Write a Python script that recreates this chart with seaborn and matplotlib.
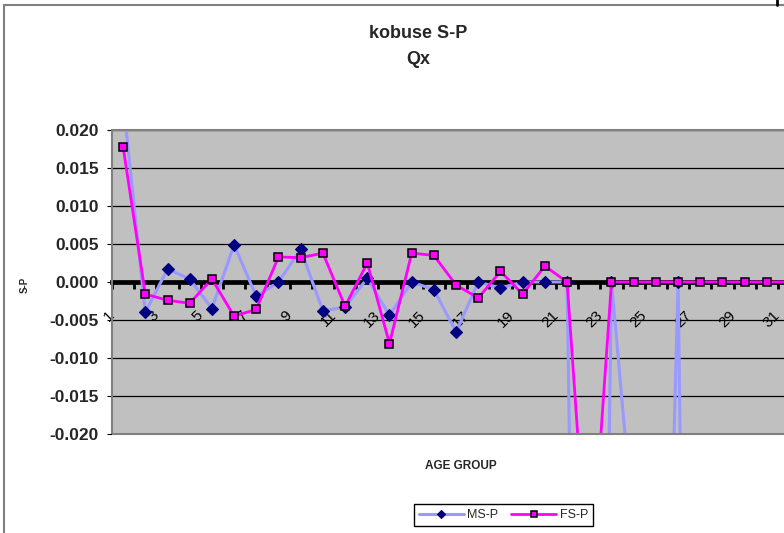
import numpy as np
import pandas as pd
import matplotlib
matplotlib.use("Agg")
import matplotlib.pyplot as plt
from matplotlib.transforms import ScaledTranslation
from matplotlib.patches import Rectangle
from matplotlib.lines import Line2D
import seaborn as sns

# Age groups on the category axis
age_groups = list(range(1, 32))

# Differences in Qx (survey minus projection), males
ms_p = [0.0238, -0.0040, 0.0017, 0.0004, -0.0035, 0.0049, -0.0019, 0.0000,
        0.0043, -0.0038, -0.0033, 0.0005, -0.0044, 0.0000, -0.0010, -0.0066,
        0.0000, -0.0008, 0.0000, 0.0000, 0.0000, -0.2000, 0.0000, -0.0330,
        -0.1100, 0.0000, -0.2200, np.nan, np.nan, np.nan, np.nan]

# Differences in Qx (survey minus projection), females
fs_p = [0.0178, -0.0016, -0.0024, -0.0028, 0.0004, -0.0045, -0.0036, 0.0033,
        0.0032, 0.0038, -0.0032, 0.0025, -0.0081, 0.0038, 0.0035, -0.0004,
        -0.0021, 0.0014, -0.0016, 0.0021, 0.0000, -0.0420, 0.0000, 0.0000,
        0.0000, 0.0000, 0.0000, 0.0000, 0.0000, 0.0000, 0.0000]

y_ticks = [0.020, 0.015, 0.010, 0.005, 0.000, -0.005, -0.010, -0.015, -0.020]

sns.set_style("white")
plt.rcParams["font.family"] = ["Liberation Sans", "DejaVu Sans"]
plt.rcParams["axes.unicode_minus"] = False

W_PX, H_PX = 784, 533
fig = plt.figure(figsize=(W_PX / 100, H_PX / 100), dpi=100)

cat_px = 22.2
left_px, top_px, bottom_px = 112, 130, 434
ax = fig.add_axes([left_px / W_PX, 1 - bottom_px / H_PX,
                   len(age_groups) * cat_px / W_PX, (bottom_px - top_px) / H_PX])
ax.set_facecolor("#C0C0C0")

df = pd.DataFrame({"age": age_groups, "MS-P": ms_p, "FS-P": fs_p})

sns.lineplot(data=df, x="age", y="MS-P", ax=ax, estimator=None, sort=False,
             legend=False, label="MS-P", color="#9999FF", lw=2.2, marker="D",
             markersize=6.3, markerfacecolor="#000080",
             markeredgecolor="#000080", markeredgewidth=0.8, zorder=3)
sns.lineplot(data=df, x="age", y="FS-P", ax=ax, estimator=None, sort=False,
             legend=False, label="FS-P", color="#FF00FF", lw=2.0, marker="s",
             markersize=6.2, markerfacecolor="#FF00FF",
             markeredgecolor="black", markeredgewidth=1.1, zorder=4)

n = len(age_groups)
ax.set_xlim(0.5, n + 0.5)
ax.set_ylim(min(y_ticks), max(y_ticks))
ax.set_xlabel("")
ax.set_ylabel("")

# Value axis
ax.set_yticks(y_ticks, labels=[f"{v:.3f}" for v in y_ticks],
              fontweight="bold", fontsize=12.5)
ax.tick_params(axis="y", direction="out", length=3.6, width=0.8,
               color="black", pad=6, left=True)
ax.yaxis.grid(True, color="black", lw=0.9)
ax.xaxis.grid(False)

# Category axis crossing at zero, tick marks between categories
for side in ("top", "left", "right"):
    ax.spines[side].set_visible(False)
ax.spines["bottom"].set_position(("data", 0))
ax.spines["bottom"].set_color("black")
ax.spines["bottom"].set_linewidth(3.4)
ax.spines["bottom"].set_zorder(2)
ax.set_xticks(np.arange(n + 1) + 0.5)
ax.tick_params(axis="x", direction="out", length=4.8, width=2.0,
               color="black", labelbottom=False, bottom=True)

# Plot-area border
ax.add_patch(Rectangle((0, 0), 1, 1, transform=ax.transAxes, fill=False,
                       edgecolor="#808080", lw=1.5, clip_on=False, zorder=5))

# Rotated category labels next to the zero axis
offset = ScaledTranslation(-0.11, -0.31, fig.dpi_scale_trans)
for c in age_groups[::2]:
    ax.text(c, 0, str(c), transform=ax.transData + offset, rotation=45,
            rotation_mode="anchor", ha="right", va="center", fontsize=11,
            color="black", zorder=2.5)

# Titles and axis captions
fig.text(418 / W_PX, 1 - 33 / H_PX, "kobuse S-P", ha="center", va="center",
         fontsize=13, fontweight="bold")
fig.text(418 / W_PX, 1 - 60 / H_PX, "Qx", ha="center", va="center",
         fontsize=13, fontweight="bold")
fig.text(461 / W_PX, 1 - 466 / H_PX, "AGE GROUP", ha="center", va="center",
         fontsize=8.5, fontweight="bold")
fig.text(25 / W_PX, 1 - 285 / H_PX, "S-P", ha="center", va="center",
         rotation=90, fontsize=7, fontweight="bold")

# Legend below the chart
handles, labels = ax.get_legend_handles_labels()
leg = fig.legend(handles, labels, loc="center",
                 bbox_to_anchor=(503.5 / W_PX, 1 - 515 / H_PX), ncol=2,
                 frameon=True, fancybox=False, edgecolor="black",
                 framealpha=1, fontsize=9, handlelength=3.6,
                 handletextpad=0.3, columnspacing=1.0, borderpad=0.4,
                 markerscale=0.7)
leg.get_frame().set_linewidth(1.0)

# Chart frame
fig.add_artist(Rectangle((4 / W_PX, -0.05), 1.2, 1 - 5 / H_PX + 0.05,
                         transform=fig.transFigure, fill=False,
                         edgecolor="#808080", lw=1.5))
fig.add_artist(Line2D([777 / W_PX, 777 / W_PX], [1, 1 - 5 / H_PX],
                      transform=fig.transFigure, color="black", lw=2))

fig.savefig("out.png", dpi=100)
